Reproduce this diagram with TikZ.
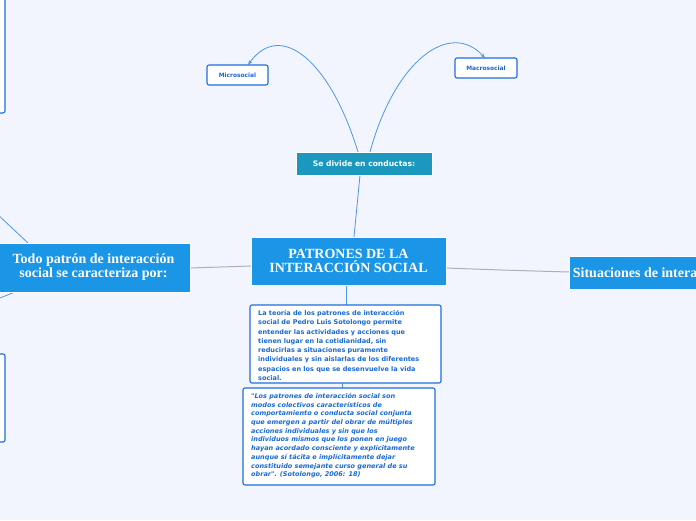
\documentclass[tikz,border=0pt]{standalone}
\usepackage{fontspec}
\setmainfont{Liberation Serif}
\newfontfamily\dv{DejaVu Sans}
\usetikzlibrary{arrows.meta}
\definecolor{bg}{RGB}{242,245,253}
\definecolor{mainb}{RGB}{27,150,230}
\definecolor{teal1}{RGB}{28,152,190}
\definecolor{bord}{RGB}{30,110,220}
\definecolor{txtb}{RGB}{25,105,215}
\definecolor{lnb}{RGB}{80,150,230}
\definecolor{lng}{RGB}{170,175,185}
\tikzset{x=1pt,y=-1pt,
 mainbox/.style={fill=mainb,draw=white,line width=0.8pt,text=white,font=\bfseries\fontsize{14}{14}\selectfont,align=center,inner sep=0pt},
 leafbox/.style={fill=white,draw=bord,line width=1.1pt,rounded corners=2pt,text=txtb,inner sep=0pt},
 bl/.style={draw=lnb,line width=0.8pt},
 gl/.style={draw=lng,line width=1pt}}
\begin{document}
\begin{tikzpicture}
\useasboundingbox (0,0) rectangle (696,520);
\fill[bg] (0,0) rectangle (696,520);
\begin{scope}
\clip (0,0) rectangle (696,520);
% connectors
\draw[bl] (354,237) -- (360,175);
\draw[bl,-{Stealth[length=5pt]}] (358,152) .. controls (330,60) and (280,20) .. (248,65);
\draw[bl,-{Stealth[length=5pt]}] (370,152) .. controls (395,60) and (450,20) .. (485,58);
\draw[gl] (190,268) -- (251,266);
\draw[gl] (446,268) .. controls (500,270) .. (569,272);
\draw[bl] (346,285) -- (346,305);
\draw[bl] (342,383) -- (342,388);
\draw[bl] (28,243) -- (-5,212);
\draw[bl] (15,292) -- (-5,300);
% left partial boxes
\draw[leafbox] (-10,-5) rectangle (5,113);
\draw[leafbox] (-10,354) rectangle (5,442);
% main nodes
\node[mainbox,minimum width=195,minimum height=48] (c) at (348.5,261) {PATRONES DE LA\\INTERACCIÓN SOCIAL};
\node[mainbox,minimum width=200,minimum height=49] (l) at (90,267.5) {\ \ Todo patrón de interacción\\\ \ social se caracteriza por:};
\node[mainbox,minimum height=33,anchor=west] (r) at (569,272.5) {\ Situaciones de interacción\ \ \ };
\node[fill=teal1,draw=white,line width=0.8pt,text=white,font=\dv\bfseries\fontsize{7.6}{8}\selectfont,minimum width=136,minimum height=23,inner sep=0pt] (s) at (364,163.5) {Se divide en conductas:};
\node[leafbox,font=\dv\bfseries\fontsize{5.9}{6}\selectfont,minimum width=61,minimum height=20] (mi) at (237.5,75) {Microsocial};
\node[leafbox,font=\dv\bfseries\fontsize{5.9}{6}\selectfont,minimum width=62,minimum height=20] (ma) at (486,68) {Macrosocial};
\node[leafbox,minimum width=191,minimum height=78] (t1) at (345.5,344) {};
\node[font=\dv\bfseries\fontsize{6.5}{9.3}\selectfont,text=txtb,align=left,anchor=north west,inner sep=0pt] at (258,310) {La teoría de los patrones de interacción\\social de Pedro Luis Sotolongo permite\\entender las actividades y acciones que\\tienen lugar en la cotidianidad, sin\\reducirlas a situaciones puramente\\individuales y sin aislarlas de los diferentes\\espacios en los que se desenvuelve la vida\\social.};
\node[leafbox,minimum width=192,minimum height=97] (t2) at (339,436.5) {};
\node[font=\dv\bfseries\itshape\fontsize{6.5}{8.7}\selectfont,text=txtb,align=left,anchor=north west,inner sep=0pt] at (251,393) {"Los patrones de interacción social son\\modos colectivos característicos de\\comportamiento o conducta social conjunta\\que emergen a partir del obrar de múltiples\\acciones individuales y sin que los\\individuos mismos que los ponen en juego\\hayan acordado consciente y explícitamente\\aunque sí tácita e implícitamente dejar\\constituido semejante curso general de su\\obrar". (Sotolongo, 2006: 18)};
\end{scope}
\end{tikzpicture}
\end{document}
